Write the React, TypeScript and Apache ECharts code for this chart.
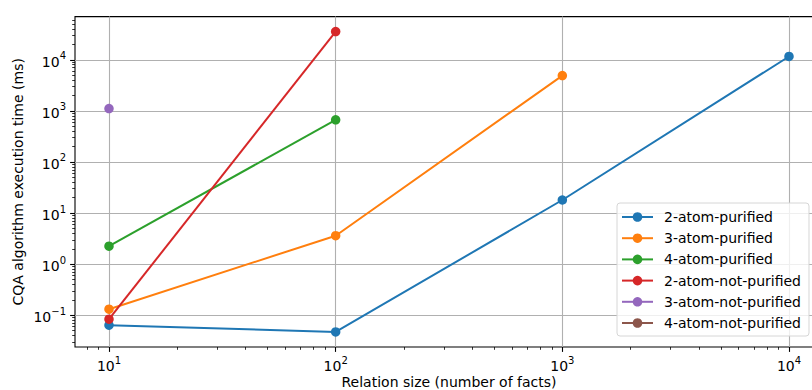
import React, { useEffect, useRef } from 'react';
import * as echarts from 'echarts';

const relationSizes = [10, 100, 1000, 10000];
const seriesNames = [
  '2-atom-purified',
  '3-atom-purified',
  '4-atom-purified',
  '2-atom-not-purified',
  '3-atom-not-purified',
  '4-atom-not-purified',
];
const atom2Purified = [0.064, 0.047, 18, 11600];
const atom3Purified = [0.131, 3.6, 4900];
const atom4Purified = [2.24, 668];
const atom2NotPurified = [0.0835, 35600];
const atom3NotPurified = [1110];
const atom4NotPurified: number[] = [];
const seriesValues = [atom2Purified, atom3Purified, atom4Purified, atom2NotPurified, atom3NotPurified, atom4NotPurified];
const seriesColors = ['#1f77b4', '#ff7f0e', '#2ca02c', '#d62728', '#9467bd', '#8c564b'];

const xMajorTicks = [10, 100, 1000, 10000];
const yMajorTicks = [0.1, 1, 10, 100, 1000, 10000];
const xMinorTicks = [8, 9, 20, 30, 40, 50, 60, 70, 80, 90, 200, 300, 400, 500, 600, 700, 800, 900, 2000, 3000, 4000, 5000, 6000, 7000, 8000, 9000];
const yMinorTicks = [
  0.03, 0.04, 0.05, 0.06, 0.07, 0.08, 0.09,
  0.2, 0.3, 0.4, 0.5, 0.6, 0.7, 0.8, 0.9,
  2, 3, 4, 5, 6, 7, 8, 9,
  20, 30, 40, 50, 60, 70, 80, 90,
  200, 300, 400, 500, 600, 700, 800, 900,
  2000, 3000, 4000, 5000, 6000, 7000, 8000, 9000,
  20000, 30000, 40000, 50000, 60000,
];

const X_MIN = 7.08;
const X_MAX = 14125;
const Y_MIN = 0.02388;
const Y_MAX = 69980;

const FONT = 'DejaVu Sans';

const powLabel = (v: number) => {
  const e = Math.round(Math.log10(v));
  const s = e < 0 ? '\u2212' + -e : String(e);
  return `{b|10}{s|${s}}`;
};

const rich = {
  b: { fontSize: 14, fontFamily: FONT, color: '#000', lineHeight: 18, verticalAlign: 'bottom' },
  s: { fontSize: 10, fontFamily: FONT, color: '#000', lineHeight: 18, verticalAlign: 'top', padding: [0, 0, 0, 0] },
};

export default function App() {
  const ref = useRef<HTMLDivElement>(null);
  useEffect(() => {
    if (!ref.current) return;
    const chart = echarts.init(ref.current, undefined, { renderer: 'svg' });
    const minorAxisCommon = {
      type: 'log',
      logBase: 10,
      axisLine: { show: false },
      axisLabel: { show: false },
      splitLine: { show: false },
    };
    chart.setOption({
      animation: false,
      backgroundColor: '#fff',
      textStyle: { fontFamily: FONT },
      grid: {
        left: 75,
        top: 16.6,
        width: 748,
        bottom: 43,
        show: true,
        borderColor: '#000',
        borderWidth: 1.1,
        backgroundColor: 'transparent',
        containLabel: false,
        outerBoundsMode: 'none',
      },
      legend: {
        orient: 'vertical',
        left: 617,
        top: 203,
        padding: [7, 8, 6, 4],
        itemWidth: 31,
        itemHeight: 12,
        itemGap: 7.2,
        backgroundColor: 'rgba(255,255,255,0.8)',
        borderColor: '#d6d6d6',
        borderWidth: 1,
        borderRadius: 3,
        textStyle: { fontSize: 14, fontFamily: FONT, color: '#000', padding: [0, 0, 0, 6] },
        data: seriesNames,
      },
      xAxis: [
        {
          type: 'log',
          logBase: 10,
          min: X_MIN,
          max: X_MAX,
          name: 'Relation size (number of facts)',
          nameLocation: 'middle',
          nameGap: 28,
          nameMoveOverlap: false,
          nameTextStyle: { fontSize: 14, fontFamily: FONT, color: '#000' },
          axisLine: { show: false },
          axisTick: { show: true, inside: false, length: 4.9, customValues: xMajorTicks, lineStyle: { color: '#000', width: 1.1 } },
          axisLabel: { customValues: xMajorTicks, margin: 8, formatter: powLabel, rich },
          splitLine: { show: true, lineStyle: { color: '#b0b0b0', width: 1.1 } },
        },
        {
          ...minorAxisCommon,
          min: X_MIN,
          max: X_MAX,
          position: 'bottom',
          axisTick: { show: true, inside: false, length: 2.8, customValues: xMinorTicks, lineStyle: { color: '#000', width: 0.8 } },
        },
      ],
      yAxis: [
        {
          type: 'log',
          logBase: 10,
          min: Y_MIN,
          max: Y_MAX,
          name: 'CQA algorithm execution time (ms)',
          nameLocation: 'middle',
          nameGap: 50,
          nameMoveOverlap: false,
          nameTextStyle: { fontSize: 14, fontFamily: FONT, color: '#000' },
          axisLine: { show: false },
          axisTick: { show: true, inside: false, length: 4.9, customValues: yMajorTicks, lineStyle: { color: '#000', width: 1.1 } },
          axisLabel: { customValues: yMajorTicks, margin: 9, formatter: powLabel, rich },
          splitLine: { show: true, lineStyle: { color: '#b0b0b0', width: 1.1 } },
        },
        {
          ...minorAxisCommon,
          min: Y_MIN,
          max: Y_MAX,
          position: 'left',
          axisTick: { show: true, inside: false, length: 2.8, customValues: yMinorTicks, lineStyle: { color: '#000', width: 0.8 } },
        },
      ],
      series: seriesNames.map((name, i) => ({
        name,
        type: 'line',
        xAxisIndex: 0,
        yAxisIndex: 0,
        symbol: 'circle',
        symbolSize: 9.5,
        showSymbol: true,
        color: seriesColors[i],
        itemStyle: { color: seriesColors[i] },
        lineStyle: { color: seriesColors[i], width: 2 },
        data: seriesValues[i].map((v, j) => [relationSizes[j], v]),
        z: 3 + i,
      })),
    });
    return () => chart.dispose();
  }, []);
  return (
    <div
      ref={ref}
      style={{ position: 'fixed', left: 0, top: 0, width: 812, height: 390, background: '#fff' }}
    />
  );
}
